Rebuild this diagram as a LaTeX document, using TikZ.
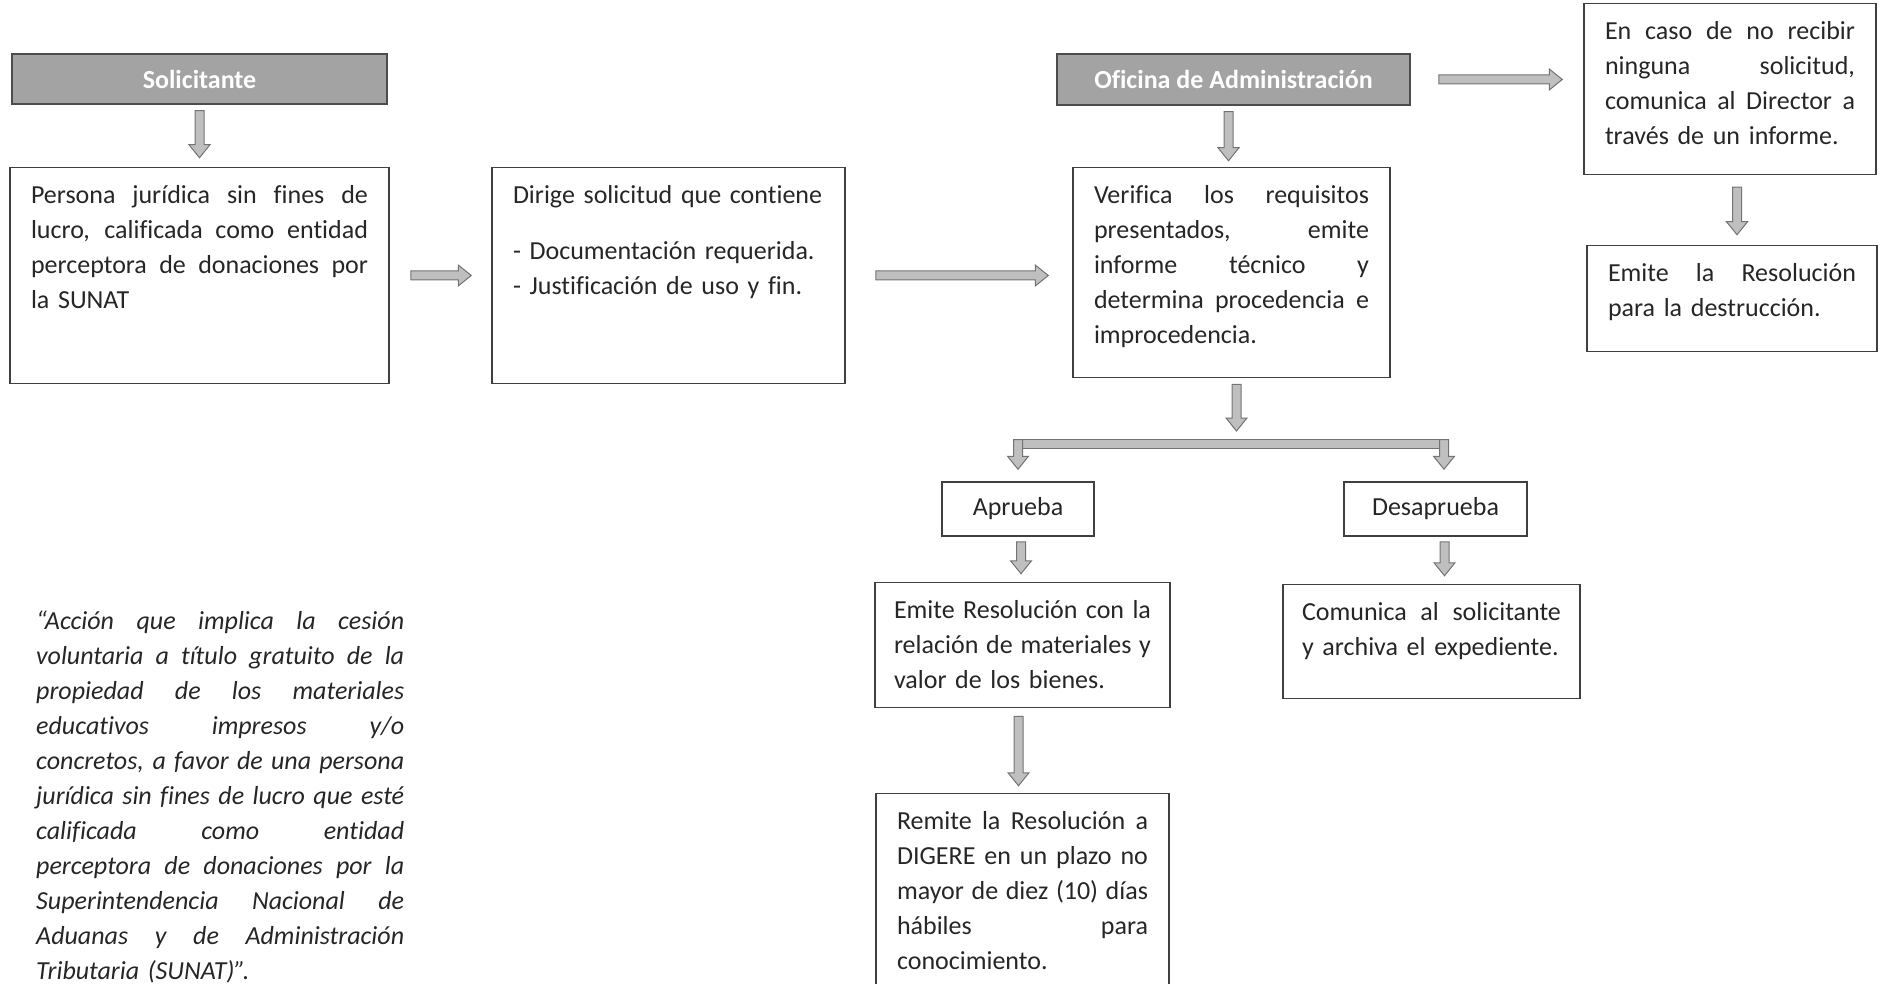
\documentclass[tikz,border=0pt]{standalone}
\usepackage{fontspec}
\setmainfont{Carlito}[Ligatures={TeX,NoCommon}]
\usepackage{tikz}
\usetikzlibrary{calc}
\usetikzlibrary{positioning}

\newcommand{\jl}[1]{\leavevmode\hbox to \hsize{\spaceskip=0.226em plus 1fil minus 0.05em\xspaceskip=0pt\relax #1}}

\tikzset{
  box/.style={draw=black!75, line width=1.5pt, align=left, inner xsep=21pt, inner ysep=15pt,
              text height=21pt, text=black!85, font=\fontsize{26}{35}\selectfont},
  choice/.style={draw=black!75, line width=1.5pt, inner sep=0pt, text=black!85,
              font=\fontsize{26}{35}\selectfont},
  header/.style={draw=black!70, line width=1.5pt, fill=black!36, inner sep=0pt, text=white,
              font=\fontsize{26}{35}\selectfont\bfseries},
  fatarrow/.style={draw=black!55, fill=black!25, line width=1pt},
  blockto/.style 2 args={fatarrow, to path={
      let \p1=($(\tikztostart)!#1!(\tikztotarget)$),
          \p2=($(\tikztotarget)!#2!(\tikztostart)$),
          \p3=($(\p2)!13pt!(\p1)$) in
      ($(\p1)!4.5pt!90:(\p2)$) -- ($(\p3)!4.5pt!-90:(\p1)$) -- ($(\p3)!10.5pt!-90:(\p1)$)
      -- (\p2) -- ($(\p3)!10.5pt!90:(\p1)$) -- ($(\p3)!4.5pt!90:(\p1)$)
      -- ($(\p1)!4.5pt!-90:(\p2)$) -- cycle}}
}

\begin{document}
\begin{tikzpicture}[x=1pt, y=-1pt]
\useasboundingbox (0,0) rectangle (1879,984);
\clip (0,0) rectangle (1879,984);

\node[header, minimum width=375pt, minimum height=50pt] (sol) at ( 199.5, 79   ) {Solicitante};
\node[header, minimum width=353pt, minimum height=51pt] (ofi) at (1233.5, 79.5 ) {Oficina de Administración};

\node[box, text width=337pt, text depth=165pt] (pers)   at ( 199.5, 275.5) {\jl{Persona jurídica sin fines de}\\
  \jl{lucro, calificada como entidad}\\ \jl{perceptora de donaciones por}\\ la SUNAT};
\node[box, text width=311pt, text depth=165pt] (dir)    at ( 668.5, 275.5) {Dirige solicitud que contiene\\[21pt]
  - Documentación requerida.\\ - Justificación de uso y fin.};
\node[box, text width=275pt, text depth=159pt] (verif)  at (1231.5, 272.5) {\jl{Verifica los requisitos}\\
  \jl{presentados, emite}\\ \jl{informe técnico y}\\ \jl{determina procedencia e}\\ improcedencia.};
\node[box, text width=250pt, text depth=120pt] (caso)   at (1730,    89  ) {\jl{En caso de no recibir}\\
  \jl{ninguna solicitud,}\\ \jl{comunica al Director a}\\ través de un informe.};
\node[box, text width=248pt, text depth=55pt]  (destr)  at (1732,   298.5) {\jl{Emite la Resolución}\\ para la destrucción.};

\node[choice, minimum width=152pt, minimum height=54pt] (apr)    at (1018,   509) {Aprueba};
\node[choice, minimum width=183pt, minimum height=54pt] (desapr) at (1435.5, 509) {Desaprueba};

\node[box, inner xsep=19pt, text width=257pt, text depth=74pt] (emite) at (1022.5, 645) {\jl{Emite Resolución con la}\\
  \jl{relación de materiales y}\\ valor de los bienes.};
\node[box, inner xsep=19pt, text width=259pt, text depth=63pt] (comun) at (1431.5, 641.5) {\jl{Comunica al solicitante}\\
  \mbox{y archiva el expediente.}};
\node[box, text width=251pt, text depth=148pt] (remite) at (1022.5, 893  ) {\jl{Remite la Resolución a}\\
  \jl{DIGERE en un plazo no}\\ \jl{mayor de diez (10) días}\\ \jl{hábiles para}\\ conocimiento.};

\node[align=left, inner sep=0pt, text width=368pt, anchor=base west, text=black!85,
      font=\fontsize{26}{35}\selectfont\itshape] (def) at (36, 629) {\jl{“Acción que implica la cesión}\\
  \jl{voluntaria a título gratuito de la}\\ \jl{propiedad de los materiales}\\ \jl{educativos impresos y/o}\\
  \jl{concretos, a favor de una persona}\\ \jl{jurídica sin fines de lucro que esté}\\ \jl{calificada como entidad}\\
  \jl{perceptora de donaciones por la}\\ \jl{Superintendencia Nacional de}\\ \jl{Aduanas y de Administración}\\
  Tributaria (SUNAT)”.};

\coordinate (barl) at (1018, 444);
\coordinate (barr) at (1444, 444);
\coordinate (split) at ([xshift=5pt]verif.south |- barl);

\draw[blockto={6pt}{9pt}]    (sol.south)   to (pers.north);
\draw[blockto={21pt}{20pt}]  (pers.east)   to (dir.west);
\draw[blockto={30pt}{24pt}]  (dir.east)    to (dir.east -| verif.west);
\draw[blockto={6pt}{6pt}]    ([xshift=-5pt]ofi.south)  to ([xshift=-5pt]ofi.south |- verif.north);
\draw[blockto={28pt}{21pt}]  (ofi.east)    to (ofi.east -| caso.west);
\draw[blockto={12pt}{10pt}]  ([xshift=7pt]caso.south)  to ([xshift=7pt]caso.south |- destr.north);
\draw[blockto={6pt}{13pt}]   (split |- verif.south) to (split);
\draw[fatarrow] ($(barl)+(-4.5,-4.5)$) rectangle ($(barr)+(4.5,4.5)$);
\draw[blockto={-4.5pt}{12pt}] (barl) to (barl |- apr.north);
\draw[blockto={-4.5pt}{12pt}] (barr) to (barr |- desapr.north);
\draw[blockto={5pt}{8pt}]    ([xshift=3pt]apr.south)    to ([xshift=3pt]apr.south |- emite.north);
\draw[blockto={5pt}{8pt}]    ([xshift=9pt]desapr.south) to ([xshift=9pt]desapr.south |- comun.north);
\draw[blockto={8pt}{7pt}]    ([xshift=-4pt]emite.south) to ([xshift=-4pt]remite.north);
\end{tikzpicture}
\end{document}
